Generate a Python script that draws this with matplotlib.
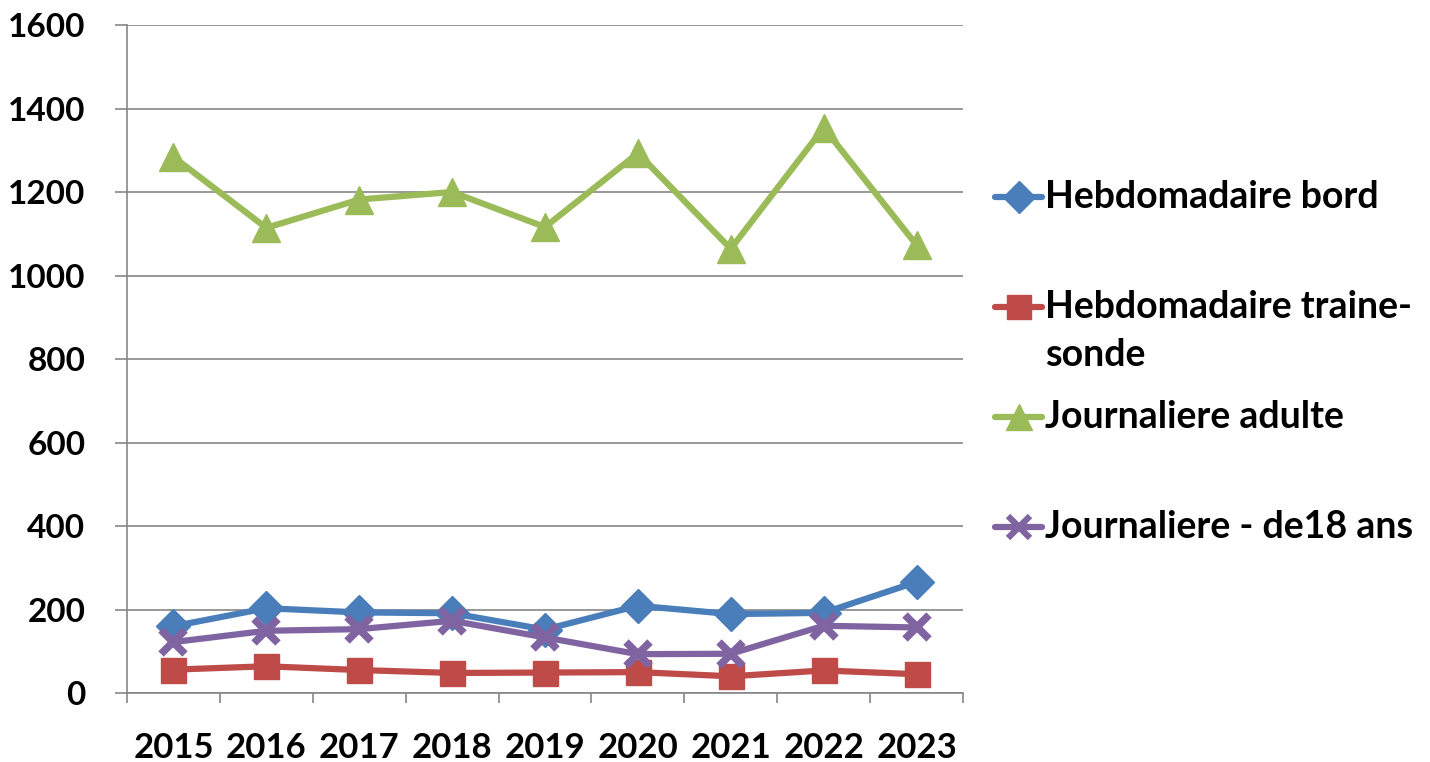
import matplotlib
matplotlib.use("Agg")
import matplotlib.pyplot as plt
from matplotlib.lines import Line2D
import numpy as np

plt.rcParams['font.family'] = ['Lato', 'DejaVu Sans']
plt.rcParams['font.weight'] = 'bold'

years = ['2015', '2016', '2017', '2018', '2019', '2020', '2021', '2022', '2023']
hebdo_bord = [160, 203, 193, 191, 152, 209, 189, 192, 266]
hebdo_traine = [56, 64, 55, 48, 49, 50, 40, 54, 45]
journ_adulte = [1284, 1114, 1182, 1200, 1116, 1293, 1064, 1354, 1073]
journ_moins18 = [122, 149, 153, 173, 133, 93, 94, 161, 157]

labels = ['Hebdomadaire bord', 'Hebdomadaire traine-\nsonde', 'Journaliere adulte', 'Journaliere - de18 ans']
colors = ['#4A7EBB', '#BE4B48', '#9BBB59', '#8064A2']
markers = ['D', 's', '^', 'x']
msizes = [17, 18, 20, 17]
series = [hebdo_bord, hebdo_traine, journ_adulte, journ_moins18]

W, H = 1430, 762
fig = plt.figure(figsize=(W / 100, H / 100), dpi=100)
ax = fig.add_axes([127 / W, 1 - 693 / H, (963 - 127) / W, (693 - 25) / H])

x = np.arange(len(years))
order = [2, 0, 3, 1]
for i in order:
    mk = markers[i]
    ax.plot(x, series[i], color=colors[i], lw=4.5, marker=mk, ms=msizes[i],
            mec=colors[i], mfc=colors[i], mew=5.5 if mk == 'x' else 1,
            solid_joinstyle='round', zorder=3 + i, clip_on=False)

ax.set_xlim(-0.5, len(years) - 0.5)
ax.set_ylim(0, 1600)
ax.set_yticks(np.arange(0, 1601, 200))
ax.yaxis.grid(True, color='#868686', lw=1.2)
ax.set_axisbelow(True)
ax.set_xticks(x)
ax.set_xticklabels(years)
ax.set_xticks(np.arange(-0.5, len(years)), minor=True)
ax.tick_params(axis='x', which='major', length=0, pad=28, labelsize=25)
ax.tick_params(axis='x', which='minor', length=7, width=1.2, color='#868686')
ax.tick_params(axis='y', which='major', length=9, width=1.2, color='#868686', pad=21, labelsize=24)
for lab in ax.get_xticklabels() + ax.get_yticklabels():
    lab.set_fontweight('bold')
for s in ['top', 'right']:
    ax.spines[s].set_visible(False)
for s in ['left', 'bottom']:
    ax.spines[s].set_color('#868686')
    ax.spines[s].set_linewidth(1.2)

# legend drawn manually
leg_y = [197, 307, 417, 527]
x0, x1 = 995, 1042
for i in range(4):
    yy = 1 - leg_y[i] / H
    mk = markers[i]
    fig.add_artist(Line2D([x0 / W, x1 / W], [yy, yy], transform=fig.transFigure,
                          color=colors[i], lw=4.5, solid_capstyle='round'))
    fig.add_artist(Line2D([(x0 + x1) / 2 / W], [yy], transform=fig.transFigure,
                          color=colors[i], marker=mk, ms=msizes[i] - 1, mfc=colors[i],
                          mec=colors[i], mew=4.5 if mk == 'x' else 1, lw=0))
    for k, line in enumerate(labels[i].split('\n')):
        fig.text(1045 / W, 1 - (leg_y[i] + 11 + 48 * k) / H, line, fontsize=27,
                 fontweight='bold', va='baseline', ha='left')

fig.savefig('out.png', dpi=100)
